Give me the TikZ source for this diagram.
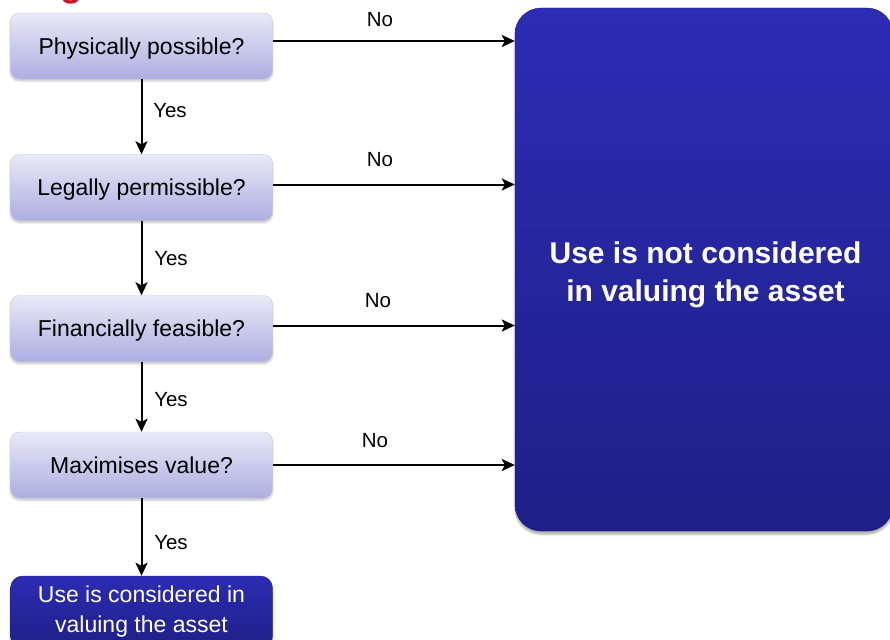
\documentclass[tikz,border=0pt]{standalone}
\usepackage{fontspec}
\setmainfont{Liberation Sans}
\usetikzlibrary{arrows.meta,shadows.blur}
\definecolor{qtop}{HTML}{E9E9F7}
\definecolor{qbot}{HTML}{ACAEE0}
\definecolor{btop}{HTML}{2C2CB4}
\definecolor{bbot}{HTML}{1F1F88}
\definecolor{titlered}{HTML}{C8102E}
\begin{document}
\begin{tikzpicture}[x=1pt,y=-1pt,
  question/.style={rounded corners=9pt, minimum width=262pt, minimum height=66pt,
    top color=qtop, bottom color=qbot, draw=qbot!70, line width=0.4pt,
    font=\fontsize{23}{27}\selectfont, inner sep=0pt, text depth=0pt,
    blur shadow={shadow blur steps=6, shadow xshift=0pt, shadow yshift=-2pt, shadow opacity=25}},
  outcome/.style={rounded corners=12pt, top color=btop, bottom color=bbot,
    draw=bbot, line width=0.4pt, text=white, align=center, inner sep=0pt,
    blur shadow={shadow blur steps=8, shadow xshift=0pt, shadow yshift=-3pt, shadow opacity=35}},
  flow/.style={draw=black, line width=2pt, -{Stealth[length=13pt,width=12pt,inset=3pt]}},
  lbl/.style={font=\fontsize{20.5}{24}\selectfont, inner sep=0pt}
]
\useasboundingbox (0,0) rectangle (890,639);
\clip (0,0) rectangle (890,639);

% heading, mostly above the page edge
\node[anchor=base west, inner sep=0pt, text=titlered, font=\fontsize{36}{40}\selectfont\bfseries]
  (title) at (24,-3) {Highest and best use -- the tests to be assessed};

% the four tests
\node[question] (q1) at (141.5,46)  {Physically possible?};
\node[question] (q2) at (141.5,187.5) {Legally permissible?};
\node[question] (q3) at (141.5,328.5) {Financially feasible?};
\node[question] (q4) at (141.5,465) {Maximises value?};

% outcomes
\node[outcome, minimum width=262pt, minimum height=72pt,
  font=\fontsize{23}{30}\selectfont] (yes) at (141.5,612)
  {Use is considered in\\valuing the asset};
\node[outcome, rounded corners=26pt, minimum width=378pt, minimum height=523pt] (no) at (704,269.5) {};
\node[text=white, align=center, inner sep=0pt, font=\fontsize{30}{38}\selectfont\bfseries]
  (notext) at (705.5,275) {Use is not considered\\in valuing the asset};

% "Yes" path down the left column
\draw[flow] (q1.south) -- (q2.north);
\draw[flow] (q2.south) -- (q3.north);
\draw[flow] (q3.south) -- (q4.north);
\draw[flow] (q4.south) -- (yes.north);
\node[lbl] (y1) at (170,111) {Yes};
\node[lbl] (y2) at (171,259) {Yes};
\node[lbl] (y3) at (171,400) {Yes};
\node[lbl] (y4) at (171,543) {Yes};

% "No" branches to the right
\draw[flow] ([yshift=5pt]q1.east) -- ([yshift=5pt]q1.east -| no.west);
\draw[flow] ([yshift=3pt]q2.east) -- ([yshift=3pt]q2.east -| no.west);
\draw[flow] ([yshift=3pt]q3.east) -- ([yshift=3pt]q3.east -| no.west);
\draw[flow] (q4.east) -- (q4.east -| no.west);
\node[lbl] (n1) at (380,20)  {No};
\node[lbl] (n2) at (380,160) {No};
\node[lbl] (n3) at (378,301) {No};
\node[lbl] (n4) at (375,441) {No};
\end{tikzpicture}
\end{document}
